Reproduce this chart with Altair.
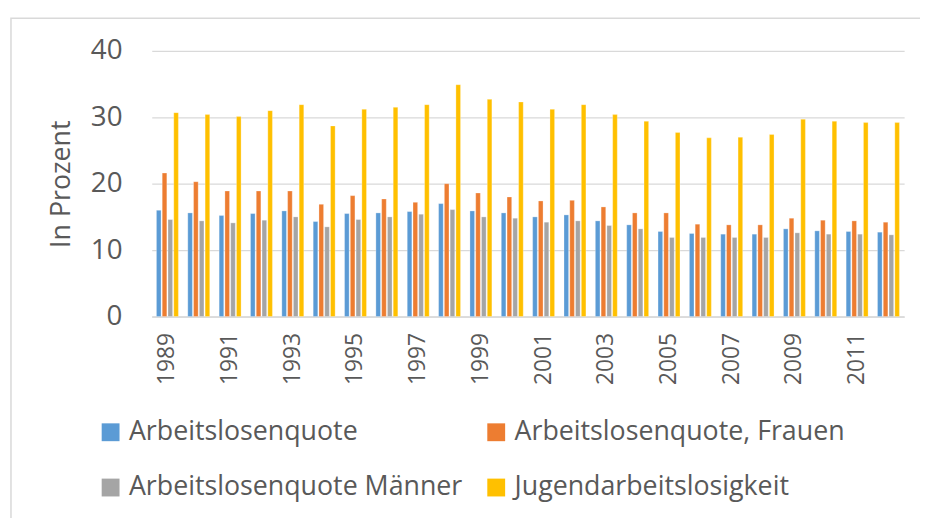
import altair as alt
import pandas as pd

jahre = ["1989", "1990", "1991", "1992", "1993", "1994", "1995", "1996",
         "1997", "1998", "1999", "2000", "2001", "2002", "2003", "2004",
         "2005", "2006", "2007", "2008", "2009", "2010", "2011", "2012"]
arbeitslosenquote = [16.0, 15.6, 15.2, 15.5, 15.9, 14.3, 15.5, 15.6, 15.8, 17.0, 15.9, 15.6,
                     15.0, 15.3, 14.4, 13.8, 12.8, 12.5, 12.4, 12.4, 13.2, 12.9, 12.8, 12.7]
frauen = [21.6, 20.3, 18.9, 18.9, 18.9, 16.9, 18.2, 17.7, 17.2, 20.0, 18.6, 18.0,
          17.4, 17.5, 16.5, 15.6, 15.6, 13.9, 13.8, 13.8, 14.8, 14.5, 14.4, 14.2]
maenner = [14.6, 14.4, 14.1, 14.5, 15.0, 13.5, 14.6, 15.0, 15.4, 16.1, 15.0, 14.8,
           14.2, 14.4, 13.7, 13.2, 11.9, 11.9, 11.9, 11.9, 12.6, 12.4, 12.4, 12.3]
jugend = [30.7, 30.4, 30.1, 31.0, 31.9, 28.7, 31.2, 31.5, 31.9, 34.9, 32.7, 32.3,
          31.2, 31.9, 30.4, 29.4, 27.7, 26.9, 27.0, 27.4, 29.7, 29.4, 29.2, 29.2]

serien = ["Arbeitslosenquote", "Arbeitslosenquote, Frauen",
          "Arbeitslosenquote Männer", "Jugendarbeitslosigkeit"]
farben = ["#5B9BD5", "#ED7D31", "#A5A5A5", "#FFC000"]
x_labels = ["1989", "1991", "1993", "1995", "1997", "1999", "2001", "2003",
            "2005", "2007", "2009", "2011"]
y_ticks = [0, 10, 20, 30, 40]

rows = []
for name, vals in zip(serien, [arbeitslosenquote, frauen, maenner, jugend]):
    for j, v in zip(jahre, vals):
        rows.append({"Jahr": j, "Serie": name, "Wert": v})
df = pd.DataFrame(rows)

FONT = "Open Sans"
TXT = "#595959"

bars = alt.Chart(df).mark_bar(stroke="white", strokeWidth=0.4, strokeOpacity=0.7).encode(
    x=alt.X("Jahr:N", sort=jahre,
            scale=alt.Scale(paddingInner=0.3, paddingOuter=0.15),
            axis=alt.Axis(values=x_labels, labelAngle=-90, title=None, ticks=False,
                          domain=True, domainColor="#d9d9d9", domainWidth=1.5,
                          labelFont=FONT, labelFontSize=23, labelColor=TXT,
                          labelPadding=16, grid=False)),
    xOffset=alt.XOffset("Serie:N", sort=serien,
                        scale=alt.Scale(domain=serien, paddingInner=0.2)),
    y=alt.Y("Wert:Q", scale=alt.Scale(domain=[0, 40]),
            axis=alt.Axis(values=y_ticks, title="In Prozent", titleFont=FONT,
                          titleFontSize=27, titleFontWeight="normal", titleColor=TXT,
                          titlePadding=15, labelFont=FONT, labelFontSize=28,
                          labelColor=TXT, ticks=False, domain=False, labelPadding=30,
                          gridColor="#d9d9d9", gridWidth=1.3)),
    color=alt.Color("Serie:N", sort=serien,
                    scale=alt.Scale(domain=serien, range=farben),
                    legend=alt.Legend(orient="none", legendX=-55, legendY=371,
                                      direction="horizontal",
                                      columns=2, title=None, symbolType="square",
                                      symbolSize=324, symbolStrokeWidth=0,
                                      labelFont=FONT, labelFontSize=27,
                                      labelColor=TXT, labelOffset=5,
                                      columnPadding=20, rowPadding=28,
                                      labelLimit=500)),
)

border = alt.Chart(pd.DataFrame({"b": [0]})).mark_rect(
    fill=None, stroke="#d9d9d9", strokeWidth=1.5
).encode(x=alt.value(-142), y=alt.value(-33), x2=alt.value(800), y2=alt.value(500))

chart = alt.layer(border, bars).properties(
    width=759, height=268, autosize="none",
    padding={"left": 145, "top": 41, "right": 16, "bottom": 201},
    background="white",
).configure_view(stroke=None)

chart.save("out.html", embed_options={"renderer": "svg", "actions": False})
